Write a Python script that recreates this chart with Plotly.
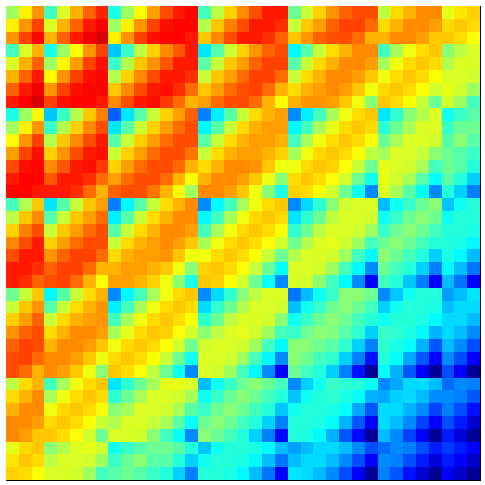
import plotly.graph_objects as go

# values, 0-100 on the jet scale
z = [
    [53,64,73,44,59,70,78,84,40,53,63,72,80,85,87,44,56,67,74,80,85,85,48,57,67,73,78,80,80,56,66,70,74,74,60,65,67],
    [64,73,81,59,70,78,85,88,53,64,73,81,86,87,87,55,68,75,80,85,85,83,57,68,72,78,81,81,77,66,70,74,74,72,66,68,66],
    [73,81,87,70,78,85,89,91,64,73,81,86,87,87,85,68,74,80,85,85,83,78,68,73,78,80,80,77,70,70,74,74,72,68,68,66,62],
    [44,59,70,40,53,63,73,81,32,43,56,67,74,79,85,35,46,57,67,73,78,80,37,46,57,66,70,74,74,44,54,61,66,68,51,56,59],
    [59,70,78,53,63,72,81,86,43,55,68,73,79,85,85,46,57,68,72,78,81,81,46,57,66,70,74,74,72,54,61,66,68,66,55,59,59],
    [70,78,85,63,73,81,86,87,55,67,74,80,85,85,83,57,68,72,77,81,81,77,57,66,70,74,74,72,68,61,66,68,66,62,59,59,58],
    [78,85,89,73,81,86,87,87,68,74,80,85,86,83,77,68,72,77,80,81,77,70,66,70,72,74,72,68,61,66,68,66,62,58,60,58,53],
    [85,88,91,81,86,87,87,85,74,80,85,86,82,77,70,72,77,80,80,77,70,62,70,73,73,72,68,61,51,68,66,62,57,48,58,53,44],
    [40,53,63,32,43,55,68,75,22,35,46,57,67,72,78,25,36,46,57,66,70,72,26,36,44,54,61,66,68,35,42,51,55,59,39,43,46],
    [53,64,73,43,55,67,74,80,35,46,57,67,72,77,80,37,46,57,66,70,72,72,37,44,54,60,66,68,66,42,48,54,59,59,43,48,48],
    [63,73,81,55,68,74,80,85,46,57,67,72,77,80,80,46,57,66,70,72,72,70,44,54,61,66,68,66,62,48,54,59,59,58,46,51,46],
    [72,81,86,67,73,80,85,86,57,67,72,77,80,80,76,57,66,70,72,72,70,67,54,61,66,68,66,62,56,54,59,59,57,51,48,46,43],
    [80,86,87,74,79,85,86,82,67,72,77,80,80,77,70,66,70,74,74,73,68,61,61,66,68,67,62,57,48,60,59,58,54,44,48,46,41],
    [85,87,87,79,85,85,83,77,72,77,80,80,77,70,62,70,74,74,72,68,61,51,66,68,66,62,58,48,39,60,58,54,46,38,46,41,33],
    [87,87,85,85,85,83,77,70,78,80,80,76,70,62,53,74,74,72,68,61,51,40,67,66,62,58,48,39,26,59,54,46,38,26,41,33,25],
    [44,55,68,35,46,57,68,72,25,37,46,57,66,70,74,26,37,44,54,61,66,68,26,34,42,51,58,59,59,31,39,43,48,51,32,39,41],
    [56,68,74,46,57,68,72,77,36,46,57,66,70,74,74,37,44,54,61,66,68,66,35,42,48,56,59,59,58,39,43,48,51,48,39,41,41],
    [67,75,80,57,68,72,77,80,46,57,66,70,74,74,72,44,54,61,66,68,66,62,42,48,56,59,59,58,53,43,48,51,48,44,41,41,40],
    [74,80,85,67,72,77,80,80,57,66,70,72,74,72,68,54,61,66,68,66,62,58,48,55,59,60,58,53,44,48,51,48,44,41,41,40,37],
    [80,85,85,73,78,81,81,77,66,70,72,72,73,68,61,61,66,68,66,62,57,48,55,59,59,58,53,44,37,51,48,44,41,33,40,37,31],
    [85,85,83,78,81,81,77,70,70,72,72,70,68,61,51,67,68,66,62,57,48,38,59,59,58,53,44,37,26,48,44,41,33,25,37,31,24],
    [85,83,78,80,81,77,70,62,72,72,70,67,61,51,40,68,67,62,58,48,38,26,59,58,51,44,37,26,12,44,41,32,25,13,31,24,12],
    [48,57,68,37,46,57,66,70,26,37,44,54,61,66,68,26,34,42,51,56,59,59,24,31,39,43,51,51,48,26,32,39,41,41,28,31,35],
    [57,68,73,46,57,66,70,73,36,44,54,61,66,68,66,34,42,48,55,59,59,58,31,39,43,48,51,48,44,33,39,41,41,40,31,34,34],
    [67,72,78,57,66,70,72,73,44,54,61,66,68,66,62,42,48,56,59,59,58,51,39,43,48,51,48,44,41,39,41,41,40,37,34,34,31],
    [73,78,80,66,70,74,74,72,54,60,66,68,67,62,58,51,56,59,60,58,53,44,43,48,51,50,46,42,33,43,42,40,37,30,34,31,26],
    [78,81,80,70,74,74,72,68,61,66,68,66,62,58,48,58,59,59,58,53,44,37,51,51,48,46,42,33,25,42,40,38,30,21,31,26,20],
    [80,81,77,74,74,72,68,61,66,68,66,62,57,48,39,59,59,58,53,44,37,26,51,48,44,42,33,25,14,41,38,29,21,13,26,20,12],
    [80,77,70,74,72,68,61,51,68,66,62,56,48,39,26,59,58,53,44,37,26,12,48,44,41,33,25,14,2,38,30,21,12,2,20,12,2],
    [56,66,70,44,54,61,66,68,35,42,48,54,60,60,59,31,39,43,48,51,48,44,26,33,39,43,42,41,38,26,29,34,34,31,23,26,25],
    [66,70,74,54,61,66,68,66,42,48,54,59,59,58,54,39,43,48,51,48,44,41,32,39,41,42,40,38,30,29,33,34,31,26,26,25,21],
    [70,74,74,61,66,68,66,62,51,54,59,59,58,54,46,43,48,51,48,44,41,32,39,41,41,40,38,29,21,34,34,30,26,19,25,20,14],
    [74,74,72,66,68,66,62,57,55,59,59,57,54,46,38,48,51,48,44,41,33,25,41,41,40,38,30,21,12,34,31,26,19,12,20,15,8],
    [74,72,68,68,66,62,58,48,59,59,58,51,44,38,26,51,48,44,41,33,25,13,41,40,37,30,21,13,2,31,26,19,12,2,15,9,2],
    [60,66,68,51,55,59,60,58,39,43,46,48,48,46,41,32,39,41,41,40,37,31,28,31,34,34,31,26,20,23,26,25,20,15,18,15,12],
    [65,68,66,56,59,59,58,53,43,48,51,46,46,41,33,39,41,41,40,37,31,24,31,34,34,31,26,20,12,26,25,20,15,9,15,12,7],
    [67,66,62,59,59,58,53,44,46,48,46,43,41,33,25,41,41,40,37,31,24,12,35,34,31,26,20,12,2,25,21,14,8,2,12,7,2],
]

jet = [
    [0, "#000080"],
    [0.125, "#0000ff"],
    [0.375, "#00ffff"],
    [0.625, "#ffff00"],
    [0.875, "#ff0000"],
    [1, "#800000"],
]

fig = go.Figure(
    go.Heatmap(z=z, colorscale=jet, zmin=0, zmax=100, showscale=False, xgap=0, ygap=0)
)

fig.update_layout(
    width=485,
    height=485,
    margin=dict(l=6, r=5, t=6, b=5),
    paper_bgcolor="white",
    plot_bgcolor="white",
    xaxis=dict(
        showticklabels=False, ticks="", showgrid=False, zeroline=False,
        showline=True, linecolor="black", linewidth=1, side="bottom",
        constrain="domain",
    ),
    yaxis=dict(
        showticklabels=False, ticks="", showgrid=False, zeroline=False,
        showline=True, linecolor="black", linewidth=1, side="right",
        autorange="reversed",
    ),
)

fig.write_html(
    "out.html",
    config=dict(displayModeBar=False),
    post_script="document.body.style.margin='0';document.body.style.overflow='hidden';",
)
